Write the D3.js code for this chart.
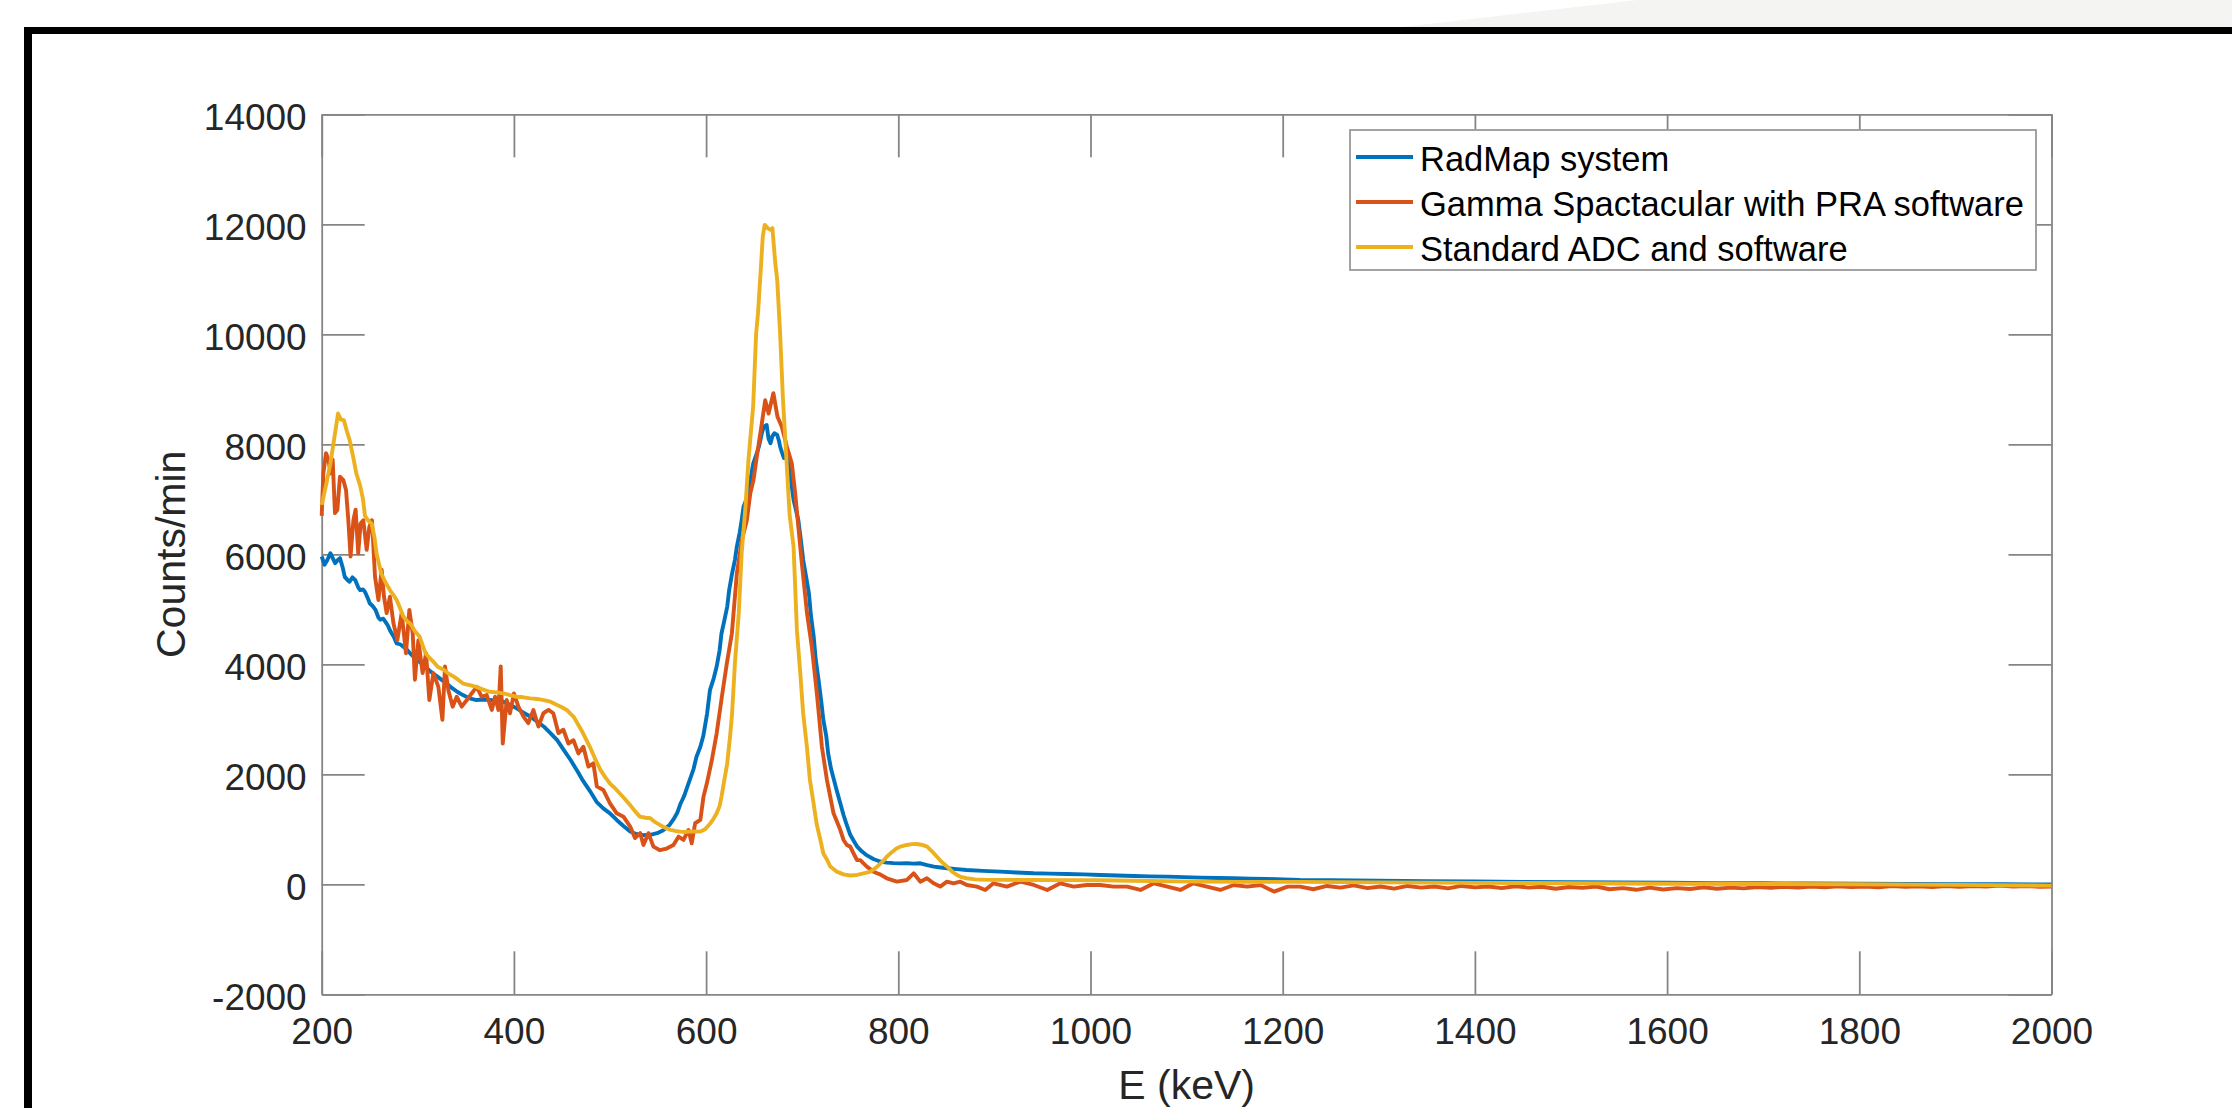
<!doctype html>
<html>
<head>
<meta charset="utf-8">
<title>Counts/min vs E (keV)</title>
<script src="https://d3js.org/d3.v7.min.js"></script>
<style>
  html, body { margin: 0; padding: 0; background: #fff; }
  svg { display: block; font-family: "Liberation Sans", Arial, Helvetica, sans-serif; }
  .axis path, .axis line { stroke: #858585; stroke-width: 1.8; fill: none; }
  .axis text { fill: #262626; font-size: 37px; }
</style>
</head>
<body>
<div id="chart"></div>
<script>
// tick values
var xTicks = [200, 400, 600, 800, 1000, 1200, 1400, 1600, 1800, 2000];
var yTicks = [-2000, 0, 2000, 4000, 6000, 8000, 10000, 12000, 14000];

var seriesNames = ["RadMap system", "Gamma Spactacular with PRA software", "Standard ADC and software"];
var seriesColors = ["#0072BD", "#D95319", "#EDB120"];

// [E (keV), counts/min]
var radmap = [[200,5960],[203,5810],[206,5900],[209,6020],[211,5950],[214,5840],[217,5900],[219,5930],[222,5750],[224,5590],
  [227,5530],[229,5500],[232,5580],[235,5530],[238,5400],[240,5350],[243,5360],[245,5320],[248,5200],[250,5110],
  [253,5060],[256,4990],[259,4850],[261,4810],[264,4830],[266,4780],[269,4700],[271,4620],[275,4500],[278,4380],
  [282,4360],[285,4320],[289,4260],[292,4200],[296,4130],[299,4080],[303,4030],[306,3990],[310,3920],[313,3870],
  [317,3820],[320,3780],[327,3690],[334,3590],[341,3500],[347,3440],[354,3380],[361,3350],[368,3360],[375,3350],
  [382,3340],[389,3320],[396,3260],[403,3200],[410,3120],[417,3050],[424,2960],[431,2870],[438,2750],[445,2620],
  [452,2440],[459,2260],[466,2060],[472,1880],[479,1700],[486,1500],[493,1380],[500,1290],[507,1170],[514,1060],
  [521,960],[528,910],[535,895],[542,900],[549,930],[555,980],[562,1080],[566,1180],[570,1300],[573,1450],
  [577,1600],[580,1750],[583,1900],[587,2100],[590,2320],[594,2500],[597,2690],[601,3100],[604,3530],[608,3750],
  [611,3960],[614,4250],[616,4560],[619,4800],[622,5050],[624,5350],[627,5650],[630,5900],[632,6140],[635,6400],
  [637,6620],[639,6870],[642,7000],[646,7350],[649,7650],[652,7800],[655,7960],[658,8200],[660,8320],[663,8350],
  [665,8100],[667,8020],[669,8150],[671,8200],[674,8170],[676,8050],[677,7960],[679,7850],[681,7750],[684,7780],
  [687,7500],[691,6990],[696,6620],[699,6200],[701,5900],[704,5600],[707,5290],[709,4900],[712,4500],[714,4100],
  [717,3720],[720,3300],[722,2990],[725,2700],[727,2380],[730,2100],[733,1900],[736,1700],[740,1450],[743,1260],
  [746,1100],[750,900],[754,780],[757,690],[762,600],[767,530],[774,460],[781,415],[788,395],[795,385],
  [802,380],[809,382],[816,375],[823,382],[830,350],[837,321],[844,305],[851,291],[861,275],[871,260],
  [888,245],[906,230],[923,215],[941,200],[958,195],[975,188],[993,180],[1010,170],[1028,160],[1045,151],
  [1062,145],[1080,139],[1097,130],[1114,121],[1132,115],[1149,109],[1166,103],[1184,97],[1201,88],[1218,79],
  [1250,75],[1300,65],[1350,58],[1400,52],[1450,45],[1500,40],[1550,33],[1600,28],[1650,22],[1700,18],
  [1750,14],[1800,10],[1850,6],[1900,3],[1950,0],[2000,-3]];

var gammaSpec = [[200,6700],[201.7,7470],[204.5,7840],[207,7720],[209.3,7470],[211.4,7720],[213.8,6750],[216.3,6810],
  [219,7410],[222.5,7350],[225.3,7170],[227.7,6620],[230,5960],[233,6620],[235.3,6810],[238,6020],[240.5,6560],
  [243.3,6620],[246.8,6080],[249.6,6500],[252.3,6620],[255.5,5590],[259,5170],[262.4,5720],[264.8,5230],[267.6,4930],
  [271,5230],[274.6,4750],[278.7,4440],[283.2,4930],[287.7,4200],[291.2,4990],[294.7,4560],[297,3720],[300.6,4440],
  [305,3840],[308.6,4200],[312,3350],[316.2,3840],[321.4,3590],[325.6,2990],[328.3,3960],[331.8,3530],[336.3,3230],
  [340.5,3410],[345.7,3230],[351,3350],[356,3470],[361.3,3590],[366.5,3410],[371.7,3440],[377,3170],[380.4,3410],
  [383.9,3170],[386.3,3960],[388.4,2560],[392.5,3350],[396,3110],[400,3470],[404.7,3230],[410,3050],[415,2930],
  [420.3,3170],[425.5,2870],[430.7,3110],[436,3170],[441,3110],[446.3,2750],[451.5,2810],[456.7,2560],[462,2620],
  [467.1,2380],[472.3,2500],[477.5,2140],[482.7,2200],[486.3,1780],[493,1715],[500,1470],[507,1290],[514,1230],
  [521,1050],[526,840],[531.4,930],[534.8,715],[540,930],[545.2,685],[552,620],[559,650],[566,715],[571.3,866],
  [576.5,806],[581.7,988],[585,745],[588.6,1110],[594,1170],[597.3,1594],[600.8,1836],[606,2260],[611,2745],
  [616.4,3410],[621.6,4020],[626.8,4560],[632,5650],[637.2,6260],[642.4,6620],[646,7110],[649.3,7350],[652.8,7780],
  [658,8380],[661.5,8800],[665,8560],[670,8930],[674.3,8500],[678.8,8320],[684,7960],[689.2,7650],[692.7,7110],
  [696,6500],[699.6,5840],[705,4930],[710,4320],[715.3,3470],[720.5,2500],[725.7,1900],[732.6,1290],[739.6,990],
  [743,806],[746.5,715],[750,685],[753.4,564],[757,442],[760.4,440],[767.3,321],[774.3,230],[778,200],[781,180],
  [788,109],[798.5,48],[809,79],[816,200],[823,48],[829.8,109],[836.7,18],[843.6,-42],[850.6,48],[857.5,18],
  [864.5,48],[871.4,-12],[881.8,-42],[890.5,-103],[899,18],[913,-42],[927,48],[941,-12],[955,-103],[968.6,18],
  [982.5,-42],[996.3,-12],[1010,-12],[1024,-42],[1038,-42],[1052,-103],[1066,18],[1080,-42],[1093.5,-103],[1107,18],
  [1121,-42],[1135,-103],[1149,-12],[1163,-42],[1177,-12],[1191,-133],[1205,-42],[1218,-42],[1232,-90],[1246,-30],
  [1260,-60],[1274,-20],[1288,-70],[1302,-40],[1316,-80],[1330,-30],[1344,-60],[1358,-40],[1372,-75],[1386,-30],
  [1400,-55],[1414,-40],[1428,-70],[1442,-35],[1456,-60],[1470,-45],[1484,-80],[1498,-50],[1512,-65],[1526,-40],
  [1540,-90],[1554,-70],[1568,-100],[1582,-60],[1596,-95],[1610,-70],[1624,-85],[1638,-55],[1652,-80],[1666,-60],
  [1680,-75],[1694,-50],[1708,-65],[1722,-45],[1736,-60],[1750,-40],[1764,-55],[1778,-35],[1792,-50],[1806,-40],
  [1820,-55],[1834,-30],[1848,-45],[1862,-35],[1876,-50],[1890,-30],[1904,-45],[1918,-30],[1932,-40],[1946,-25],
  [1960,-40],[1974,-30],[1988,-45],[2000,-40]];

var standardAdc = [[200,6900],[205,7300],[209,7650],[213,8100],[217,8560],[220,8450],[223,8440],[226,8250],[229,8080],
  [233,7750],[236,7470],[240,7250],[243,7000],[245,6700],[249,6600],[252,6560],[255,6300],[257,6020],[262,5650],
  [266,5500],[271,5350],[275,5250],[278,5170],[282,5000],[285,4870],[289,4780],[292,4745],[297,4600],[302,4500],
  [305,4350],[308,4200],[312,4120],[316,4050],[321,3950],[327,3900],[332,3830],[337,3780],[342,3720],[347,3650],
  [354,3620],[361,3590],[368,3540],[375,3500],[382,3490],[389,3470],[396,3440],[403,3410],[410,3400],[417,3380],
  [424,3370],[431,3350],[438,3320],[445,3260],[450,3220],[455,3170],[459,3100],[462,3050],[467,2900],[472,2745],
  [479,2500],[484,2300],[490,2080],[495,1950],[500,1830],[505,1750],[510,1655],[515,1560],[521,1440],[526,1330],
  [531,1230],[537,1210],[542,1200],[547,1130],[552,1080],[557,1030],[563,990],[568,970],[573,958],[578,950],
  [583,958],[588,960],[594,958],[599,1000],[604,1100],[608,1200],[611,1290],[614,1420],[616,1590],[619,1900],
  [622,2200],[625,2700],[627,3100],[630,4020],[634,4930],[637,6020],[641,6870],[644,7700],[646,8100],[649,8700],
  [652,10000],[654,10380],[656,10930],[659,11780],[661,11990],[664,11930],[667,11900],[669,11930],[672,11290],[674,10990],
  [677,10020],[680,8810],[684,7600],[687,6700],[691,6140],[694.5,4620],[698,3840],[701,3110],[705,2480],[708,1900],
  [712,1450],[715,1100],[719,800],[722,560],[726,440],[729,330],[736,230],[743,180],[750,160],[757,170],
  [764,200],[771,230],[778,320],[784,420],[788,500],[793,580],[798,650],[803,690],[809,715],[814,730],
  [819,733],[824,720],[830,685],[835,600],[840,505],[845,410],[851,320],[856,230],[861,170],[866,130],
  [871,110],[880,90],[892,80],[910,80],[940,78],[970,75],[1010,75],[1060,60],[1114,48],[1160,45],
  [1220,45],[1300,35],[1400,25],[1500,20],[1600,10],[1700,5],[1800,0],[1900,-10],[2000,-25]];

var W = 2232, H = 1108;
var plot = {left: 321.7, right: 2051.5, top: 114.3, bottom: 994.3};
var tickLen = 43;

var svg = d3.select("#chart").append("svg")
  .attr("width", W).attr("height", H);

// slide background remnants above the frame
svg.append("polygon")
  .attr("points", "1637,0 2232,0 2232,27 1402,27")
  .attr("fill", "#f4f4f2");
// black frame (left and top)
svg.append("rect").attr("x", 24).attr("y", 27).attr("width", W - 24).attr("height", 7).attr("fill", "#000");
svg.append("rect").attr("x", 24).attr("y", 27).attr("width", 8).attr("height", H - 27).attr("fill", "#000");

var x = d3.scaleLinear().domain([200, 2000]).range([plot.left, plot.right]);
var y = d3.scaleLinear().domain([-2000, 14000]).range([plot.bottom, plot.top]);
var plain = function(d){ return String(d); };

// axes with inward ticks, box on
svg.append("g").attr("class", "axis")
  .attr("transform", "translate(0," + plot.bottom + ")")
  .call(d3.axisBottom(x).tickValues(xTicks).tickSizeInner(-tickLen).tickSizeOuter(0).tickPadding(23.4).tickFormat(plain));
svg.append("g").attr("class", "axis")
  .attr("transform", "translate(0," + plot.top + ")")
  .call(d3.axisTop(x).tickValues(xTicks).tickSizeInner(-tickLen).tickSizeOuter(0).tickFormat(""));
var yAxis = svg.append("g").attr("class", "axis")
  .attr("transform", "translate(" + plot.left + ",0)")
  .call(d3.axisLeft(y).tickValues(yTicks).tickSizeInner(-tickLen).tickSizeOuter(0).tickPadding(15).tickFormat(plain));
yAxis.selectAll("text").attr("dy", "0.42em");
svg.append("g").attr("class", "axis")
  .attr("transform", "translate(" + plot.right + ",0)")
  .call(d3.axisRight(y).tickValues(yTicks).tickSizeInner(-tickLen).tickSizeOuter(0).tickFormat(""));

// axis labels
svg.append("text")
  .attr("transform", "translate(171," + ((plot.top + plot.bottom) / 2) + ") rotate(-90)")
  .attr("text-anchor", "middle").attr("dy", "0.35em")
  .style("font-size", "41px").style("fill", "#262626")
  .text("Counts/min");
svg.append("text")
  .attr("x", (plot.left + plot.right) / 2).attr("y", 1099)
  .attr("text-anchor", "middle")
  .style("font-size", "41px").style("fill", "#262626")
  .text("E (keV)");

// spectra
var line = d3.line().x(function(d){ return x(d[0]); }).y(function(d){ return y(d[1]); });
[radmap, gammaSpec, standardAdc].forEach(function(s, i){
  svg.append("path")
    .datum(s)
    .attr("d", line)
    .attr("fill", "none")
    .attr("stroke", seriesColors[i])
    .attr("stroke-width", 3.9)
    .attr("stroke-linejoin", "round");
});

// legend
var lg = svg.append("g").attr("transform", "translate(1350,130)");
lg.append("rect").attr("width", 686).attr("height", 140)
  .attr("fill", "#fff").attr("stroke", "#9a9a9a").attr("stroke-width", 1.8);
seriesNames.forEach(function(name, i){
  var ry = 27 + i * 45;
  lg.append("line").attr("x1", 6).attr("x2", 63).attr("y1", ry).attr("y2", ry)
    .attr("stroke", seriesColors[i]).attr("stroke-width", 3.9);
  lg.append("text").attr("x", 70).attr("y", ry).attr("dy", "0.42em")
    .style("font-size", "34.5px").style("fill", "#000")
    .text(name);
});
</script>
</body>
</html>
